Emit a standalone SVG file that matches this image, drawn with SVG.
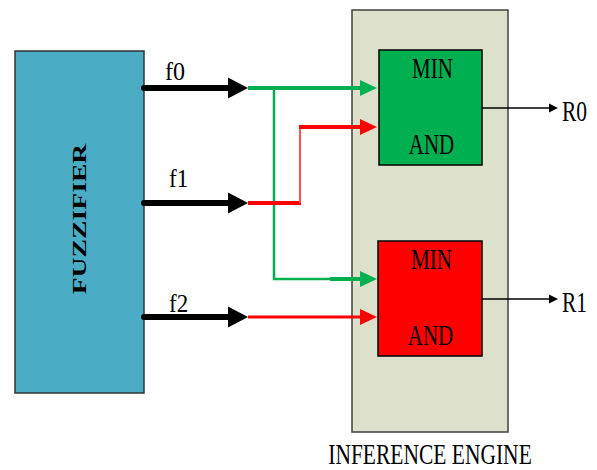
<svg xmlns="http://www.w3.org/2000/svg" width="597" height="470" viewBox="0 0 597 470">
<style>
text{font-family:"Liberation Serif","Times New Roman",serif;fill:#000}
.g{stroke:#00b050;fill:none}
.r{stroke:#ff0000;fill:none}
.k{stroke:#000;fill:none}
</style>
<rect width="597" height="470" fill="#fff"/>
<g id="fuzzifier">
<rect x="15" y="51" width="129" height="342" fill="#4bacc6" stroke="#333" stroke-width="1.5"/>
<text transform="translate(86,219) rotate(-90) scale(1.42,1)" font-size="19.5" font-weight="bold" text-anchor="middle">FUZZIFIER</text>
</g>
<g id="inference-engine">
<rect x="352" y="10" width="156" height="422" fill="#dde0cb" stroke="#404040" stroke-width="1.5"/>
<text transform="translate(430,464) scale(1,1.4)" font-size="21.5" text-anchor="middle">INFERENCE ENGINE</text>
</g>
<g id="rule0">
<rect x="379" y="50" width="103" height="115" fill="#00b050" stroke="#000" stroke-width="1.5"/>
<text transform="translate(432.5,78) scale(1,1.37)" font-size="21" text-anchor="middle">MIN</text>
<text transform="translate(431.5,154) scale(1,1.38)" font-size="21" text-anchor="middle">AND</text>
</g>
<g id="rule1">
<rect x="378" y="241" width="104" height="115" fill="#ff0000" stroke="#000" stroke-width="1.5"/>
<text transform="translate(431.5,269) scale(1,1.37)" font-size="21" text-anchor="middle">MIN</text>
<text transform="translate(430.5,345) scale(1,1.38)" font-size="21" text-anchor="middle">AND</text>
</g>
<g id="labels">
<text transform="translate(165,80) scale(1,1.05)" font-size="24">f0</text>
<text transform="translate(169,187) scale(1,1.05)" font-size="23">f1</text>
<text transform="translate(169,312) scale(1,1.05)" font-size="23">f2</text>
<text transform="translate(562,121) scale(1,1.33)" font-size="21.5">R0</text>
<text transform="translate(562,312) scale(1,1.33)" font-size="21.5">R1</text>
</g>
<g id="connectors">
<g stroke="#000" stroke-width="6" stroke-linecap="round">
<line x1="144" y1="88" x2="230" y2="88"/>
<line x1="144" y1="203" x2="230" y2="203"/>
<line x1="144" y1="317" x2="230" y2="317"/>
</g>
<g fill="#000">
<polygon points="228,77.5 248,88 228,98.5"/>
<polygon points="228,192.5 248,203 228,213.5"/>
<polygon points="228,306.5 248,317 228,327.5"/>
</g>
<line class="g" x1="248" y1="88" x2="362" y2="88" stroke-width="4"/>
<polyline class="g" points="274,88 274,279 362,279" stroke-width="2.5"/>
<line class="g" x1="330" y1="279" x2="362" y2="279" stroke-width="4"/>
<polygon points="360,80 377,88 360,96" fill="#00b050"/>
<polygon points="360,271 377,279 360,287" fill="#00b050"/>
<line class="r" x1="248" y1="203" x2="301" y2="203" stroke-width="4"/>
<line x1="300" y1="127" x2="300" y2="203" stroke="#ff5050" stroke-width="2"/>
<line class="r" x1="299" y1="127" x2="362" y2="127" stroke-width="4"/>
<polygon points="360,119 377,127 360,135" fill="#ff0000"/>
<line class="r" x1="248" y1="317" x2="362" y2="317" stroke-width="3"/>
<polygon points="360,309 377,317 360,325" fill="#ff0000"/>
<line class="k" x1="482" y1="108" x2="551" y2="108" stroke-width="1.5"/>
<polygon points="549,103.5 558,108 549,112.5" fill="#000"/>
<line class="k" x1="482" y1="299" x2="551" y2="299" stroke-width="1.5"/>
<polygon points="549,294.5 558,299 549,303.5" fill="#000"/>
</g>
</svg>
